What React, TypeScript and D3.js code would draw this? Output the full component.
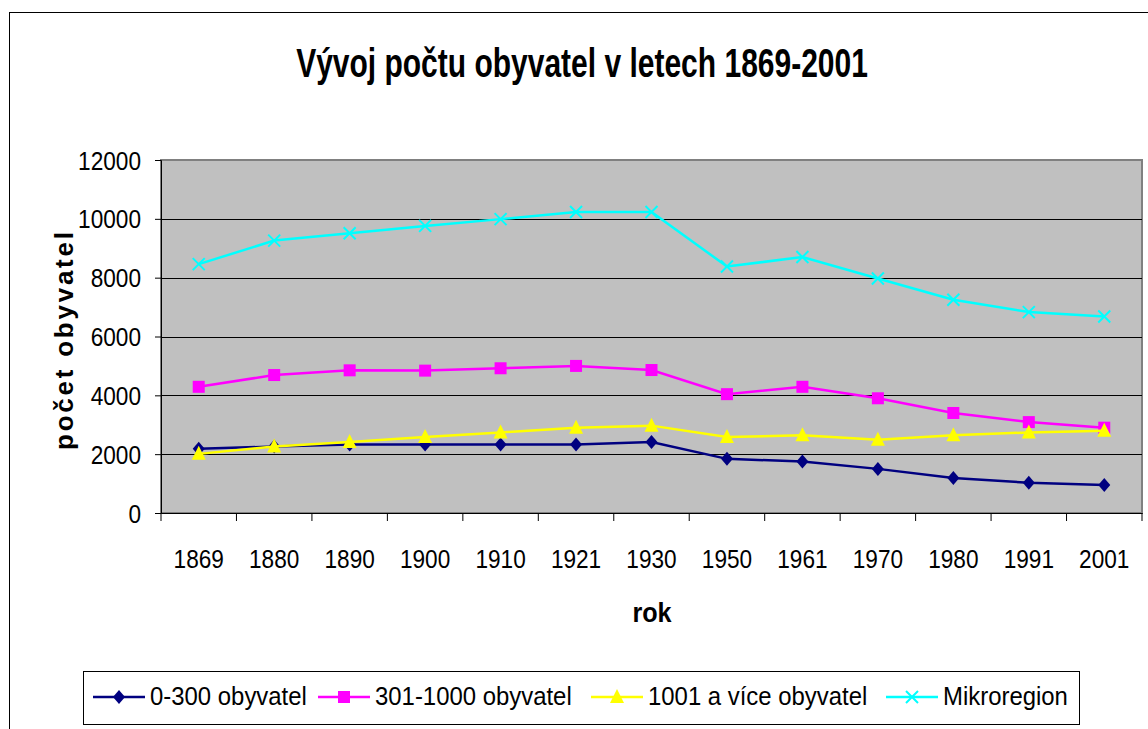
import React, { useEffect, useRef } from 'react';
import * as d3 from 'd3';

const years = ['1869', '1880', '1890', '1900', '1910', '1921', '1930', '1950', '1961', '1970', '1980', '1991', '2001'];
const small = [2180, 2260, 2330, 2330, 2330, 2330, 2410, 1840, 1750, 1500, 1190, 1030, 950];
const middle = [4290, 4690, 4850, 4840, 4920, 5000, 4860, 4040, 4290, 3900, 3400, 3090, 2900];
const large = [2010, 2260, 2410, 2580, 2740, 2900, 2970, 2580, 2640, 2490, 2640, 2740, 2800];
const micro = [8460, 9260, 9510, 9760, 9990, 10230, 10230, 8380, 8700, 7970, 7250, 6830, 6680];
const yTicks = [0, 2000, 4000, 6000, 8000, 10000, 12000];

const series = [
  { name: '0-300 obyvatel', values: small, color: '#000080', marker: 'diamond' },
  { name: '301-1000 obyvatel', values: middle, color: '#FF00FF', marker: 'square' },
  { name: '1001 a více obyvatel', values: large, color: '#FFFF00', marker: 'triangle' },
  { name: 'Mikroregion', values: micro, color: '#00FFFF', marker: 'x' },
];

// no Arial Narrow here, so Liberation Sans gets squeezed horizontally
const FONT = "'Liberation Sans', Arial, sans-serif";

function drawMarker(g, type, x, y, color) {
  if (type === 'diamond') {
    g.append('path').attr('d', `M${x},${y - 7}L${x + 6},${y}L${x},${y + 7}L${x - 6},${y}Z`).attr('fill', color);
  } else if (type === 'square') {
    g.append('rect').attr('x', x - 6).attr('y', y - 6).attr('width', 12).attr('height', 12).attr('fill', color);
  } else if (type === 'triangle') {
    g.append('path').attr('d', `M${x},${y - 8}L${x + 7},${y + 6}L${x - 7},${y + 6}Z`).attr('fill', color);
  } else {
    g.append('path').attr('d', `M${x - 6},${y - 6}L${x + 6},${y + 6}M${x - 6},${y + 6}L${x + 6},${y - 6}`)
      .attr('stroke', color).attr('stroke-width', 2);
  }
}

// text squeezed around its anchor point
function narrowText(g, x, y, str, size, k, opts = {}) {
  return g.append('text')
    .attr('transform', `translate(${x},${y}) scale(${k},1)`)
    .attr('text-anchor', opts.anchor || 'start')
    .attr('font-family', FONT)
    .attr('font-weight', opts.bold ? 'bold' : 'normal')
    .attr('font-size', size)
    .attr('fill', '#000')
    .text(str);
}

const App = () => {
  const svgRef = useRef(null);

  useEffect(() => {
    const svg = d3.select(svgRef.current);
    svg.selectAll('*').remove();

    const width = 1148;
    const height = 729;
    const plot = { left: 161, top: 160, right: 1142, bottom: 513 };

    // outer chart frame
    svg.append('rect').attr('x', 9.5).attr('y', 12.5).attr('width', width + 20).attr('height', height + 20)
      .attr('fill', 'white').attr('stroke', '#000').attr('stroke-width', 1);

    const x = d3.scaleBand().domain(years).range([plot.left, plot.right]);
    const y = d3.scaleLinear().domain([0, 12000]).range([plot.bottom, plot.top]);

    svg.append('rect').attr('x', plot.left).attr('y', plot.top)
      .attr('width', plot.right - plot.left).attr('height', plot.bottom - plot.top)
      .attr('fill', '#C0C0C0').attr('stroke', '#808080').attr('stroke-width', 2);

    // gridlines
    svg.append('g').selectAll('line').data(yTicks.filter(t => t > 0 && t < 12000)).enter().append('line')
      .attr('x1', plot.left).attr('x2', plot.right)
      .attr('y1', d => Math.round(y(d)) + 0.5).attr('y2', d => Math.round(y(d)) + 0.5)
      .attr('stroke', '#000').attr('stroke-width', 1);

    // y axis
    const yAxis = svg.append('g').attr('transform', `translate(${plot.left},0)`)
      .call(d3.axisLeft(y).tickValues(yTicks).tickSize(6).tickFormat(() => ''));
    yAxis.select('.domain').attr('stroke', '#000');
    const tg = svg.append('g');
    yTicks.forEach(t => narrowText(tg, 141, y(t) + 9.5, String(t), 26, 0.87, { anchor: 'end' }));

    // x axis
    const xAxis = svg.append('g').attr('transform', `translate(0,${plot.bottom})`)
      .call(d3.axisBottom(x).tickSize(0).tickFormat(() => ''));
    xAxis.select('.domain').attr('stroke', '#000');
    const bounds = years.map(d => x(d)).concat([plot.right]);
    xAxis.selectAll('.bound').data(bounds).enter().append('line')
      .attr('x1', d => d).attr('x2', d => d).attr('y1', 0).attr('y2', 8).attr('stroke', '#000');
    years.forEach(yr => narrowText(tg, x(yr) + x.bandwidth() / 2, 568, yr, 26, 0.87, { anchor: 'middle' }));

    // lines & markers
    const line = d3.line().x((d, i) => x(years[i]) + x.bandwidth() / 2).y(d => y(d));
    series.forEach(s => {
      svg.append('path').datum(s.values).attr('d', line).attr('fill', 'none')
        .attr('stroke', s.color).attr('stroke-width', 2.5);
      const mg = svg.append('g');
      s.values.forEach((v, i) => drawMarker(mg, s.marker, x(years[i]) + x.bandwidth() / 2, y(v), s.color));
    });

    // titles
    narrowText(svg, 582, 77, 'Vývoj počtu obyvatel v letech 1869-2001', 40, 0.75, { anchor: 'middle', bold: true });
    narrowText(svg, 652, 622, 'rok', 28, 0.9, { anchor: 'middle', bold: true });
    svg.append('text').attr('transform', `translate(73,341) rotate(-90)`)
      .attr('text-anchor', 'middle').attr('font-family', FONT).attr('font-weight', 'bold')
      .attr('font-size', 26).attr('textLength', 218).attr('lengthAdjust', 'spacing').text('počet obyvatel');

    // legend
    const lg = svg.append('g');
    lg.append('rect').attr('x', 83.5).attr('y', 671.5).attr('width', 996).attr('height', 53)
      .attr('fill', 'white').attr('stroke', '#000');
    const legendX = [93, 318, 591, 886];
    series.forEach((s, i) => {
      const lx = legendX[i];
      const ly = 697;
      lg.append('line').attr('x1', lx).attr('x2', lx + 52).attr('y1', ly).attr('y2', ly)
        .attr('stroke', s.color).attr('stroke-width', 2.5);
      drawMarker(lg, s.marker, lx + 26, ly, s.color);
      narrowText(lg, lx + 57, ly + 8, s.name, 26, 0.92);
    });
  }, []);

  return <svg ref={svgRef} width={1148} height={729} style={{ position: 'absolute', left: 0, top: 0 }}></svg>;
};

export default App;
